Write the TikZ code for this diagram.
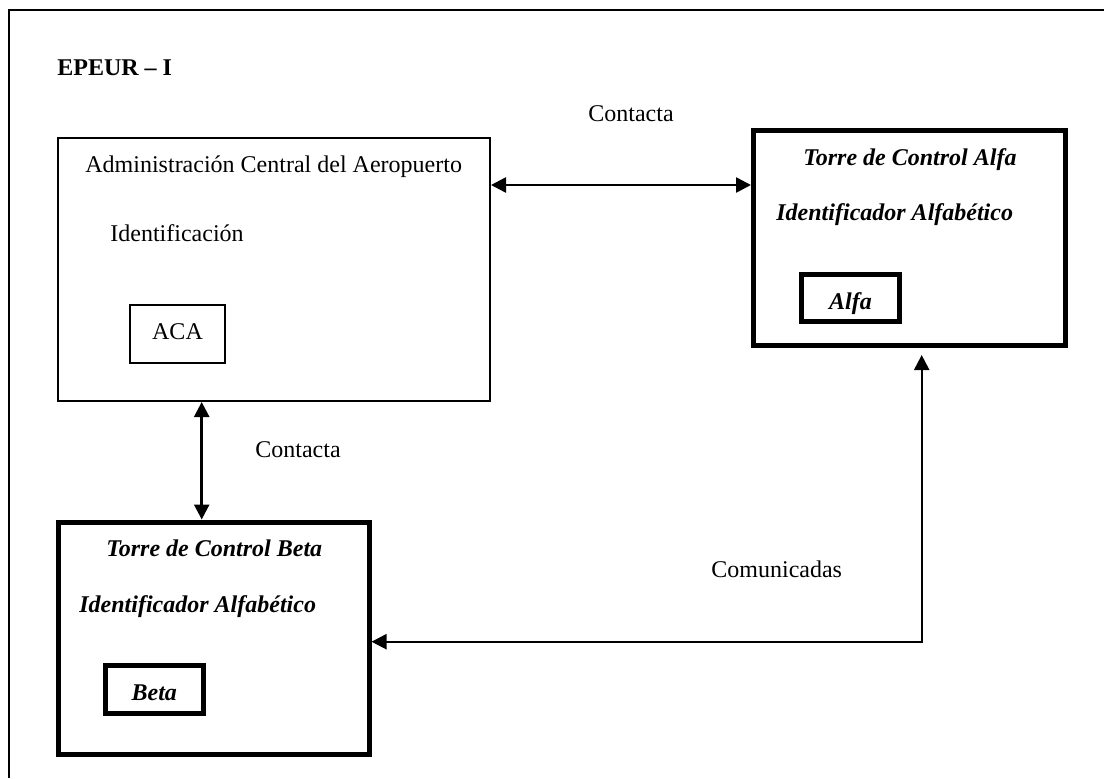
\documentclass[tikz,border=0pt]{standalone}
\usepackage{fontspec}
\setmainfont{Liberation Serif}
\usetikzlibrary{arrows.meta}
\begin{document}
\begin{tikzpicture}[x=0.5pt,y=-0.5pt,
  thinbox/.style={draw,line width=1pt,rectangle,inner sep=0pt},
  thickbox/.style={draw,line width=2.5pt,rectangle,inner sep=0pt},
  lbl/.style={inner sep=0pt,anchor=base west,font=\fontsize{12}{14}\selectfont},
  bilbl/.style={lbl,font=\fontsize{12}{14}\selectfont\bfseries\itshape},
  link/.style={line width=1.25pt,{Triangle[length=7.5pt,width=7.5pt]}-{Triangle[length=7.5pt,width=7.5pt]}},
  frame/.style={line width=1.25pt}]
\useasboundingbox (0,0) rectangle (1104,778);
% outer frame (only top and left sides visible)
\draw[frame] (9,778) -- (9,10) -- (1104,10);
% title
\node[lbl,font=\fontsize{12}{14}\selectfont\bfseries] (title) at (57,75) {EPEUR – I};
% boxes
\node[thinbox,minimum width=216.25pt,minimum height=131.75pt] (admin) at (273.75,269.25) {};
\node[thinbox,minimum width=47.5pt,minimum height=28.75pt] (aca) at (177.5,333.75) {};
\node[thickbox,minimum width=156pt,minimum height=107.5pt] (alfa) at (909.5,238) {};
\node[thickbox,minimum width=49pt,minimum height=23.5pt] (alfain) at (850.5,298) {};
\node[thickbox,minimum width=155.5pt,minimum height=116pt] (beta) at (213.5,638) {};
\node[thickbox,minimum width=48.75pt,minimum height=24pt] (betain) at (154.25,689) {};
% texts
\node[lbl] (admint) at (85,172) {Administración Central del Aeropuerto};
\node[lbl] (ident) at (110,241) {Identificación};
\node[lbl,anchor=base] (acat) at (177.5,339) {ACA};
\node[bilbl] (alfat1) at (803,165) {Torre de Control Alfa};
\node[bilbl] (alfat2) at (776,220) {Identificador Alfabético};
\node[bilbl,anchor=base] (alfat3) at (850.5,309) {Alfa};
\node[bilbl] (betat1) at (106,556) {Torre de Control Beta};
\node[bilbl] (betat2) at (79,612) {Identificador Alfabético};
\node[bilbl,anchor=base] (betat3) at (154.25,700) {Beta};
\node[lbl] (c1) at (588,121) {Contacta};
\node[lbl] (c2) at (255,457) {Contacta};
\node[lbl] (c3) at (711,577) {Comunicadas};
% connectors
\coordinate (yh) at (0,185);
\coordinate (xv) at (201.7,0);
\coordinate (atip) at (921.7,355);
\coordinate (ycom) at (0,641.7);
\draw[link] (admin.east |- yh) -- (alfa.west |- yh);
\draw[link] (admin.south -| xv) -- (beta.north -| xv);
\draw[link,line width=1.1pt] (atip) |- (beta.east |- ycom);
\end{tikzpicture}
\end{document}
